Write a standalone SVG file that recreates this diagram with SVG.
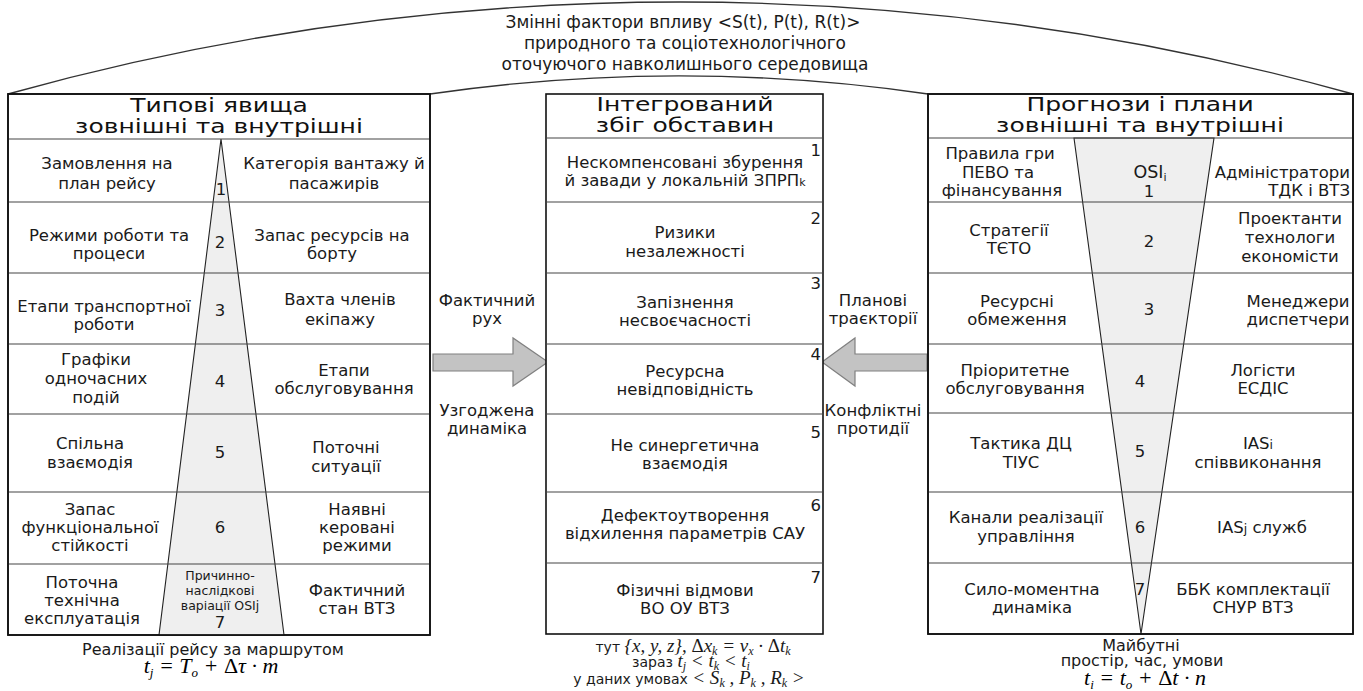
<svg xmlns="http://www.w3.org/2000/svg" width="1363" height="691" viewBox="0 0 1363 691">
<style>
.t{font-family:"DejaVu Sans",Verdana,sans-serif;font-size:16.5px;fill:#1a1a1a;text-anchor:middle}
.e{text-anchor:end}
.h{font-family:"DejaVu Sans",Verdana,sans-serif;font-size:20px;fill:#111;text-anchor:middle}
.s{font-size:12.5px}
.f{font-family:"Liberation Serif","Times New Roman",serif;font-style:italic;font-size:19px}
.u{font-style:normal}
.box{fill:#fff;stroke:#111;stroke-width:1.6}
.sep{stroke:#444;stroke-width:1.2}
.tri{fill:#efefef;stroke:#222;stroke-width:1.1}
.arc{fill:none;stroke:#333;stroke-width:1.3}
.arrow{fill:#c3c3c3;stroke:#808080;stroke-width:1.2}
</style>
<rect width="1363" height="691" fill="#fff"/>

<g id="connectors">
  <path class="arc" d="M8,94 A2504,2504 0 0 1 1353,94"/>
  <path class="arc" d="M430,94 A1731,1731 0 0 1 928,94"/>
  <path class="arrow" d="M433,354 L513,354 L513,338 L548,362 L513,386 L513,371 L433,371 Z"/>
  <path class="arrow" d="M927,354 L855,354 L855,338 L822,362 L855,386 L855,371 L927,371 Z"/>
</g>

<g id="environment">
  <text class="t" style="font-size:17px" x="683" y="28">Змінні фактори впливу &lt;S(t), P(t), R(t)&gt;</text>
  <text class="t" style="font-size:17px" x="685" y="49">природного та соціотехнологічного</text>
  <text class="t" style="font-size:17px" x="685" y="70">оточуючого навколишнього середовища</text>
</g>

<g id="typical">
  <rect class="box" x="8" y="94" width="422" height="541"/>
  <polygon class="tri" points="221,139 159,635 284,635"/>
  <g class="sep">
    <line x1="8" y1="139" x2="430" y2="139"/>
    <line x1="8" y1="202" x2="430" y2="202"/>
    <line x1="8" y1="273" x2="430" y2="273"/>
    <line x1="8" y1="344" x2="430" y2="344"/>
    <line x1="8" y1="414" x2="430" y2="414"/>
    <line x1="8" y1="492" x2="430" y2="492"/>
    <line x1="8" y1="564" x2="430" y2="564"/>
  </g>
  <rect x="8" y="94" width="422" height="541" fill="none" stroke="#111" stroke-width="1.6"/>
  <text class="h" transform="translate(219 112) scale(1.25 1)">Типові явища</text>
  <text class="h" transform="translate(219 133) scale(1.25 1)">зовнішні та внутрішні</text>
  <text class="t" x="107" y="169">Замовлення на</text>
  <text class="t" x="107" y="189">план рейсу</text>
  <text class="t" x="109" y="241">Режими роботи та</text>
  <text class="t" x="109" y="259">процеси</text>
  <text class="t" x="104" y="312">Етапи транспортної</text>
  <text class="t" x="104" y="330">роботи</text>
  <text class="t" x="96" y="365">Графіки</text>
  <text class="t" x="96" y="384">одночасних</text>
  <text class="t" x="96" y="403">подій</text>
  <text class="t" x="90" y="449">Спільна</text>
  <text class="t" x="90" y="468">взаємодія</text>
  <text class="t" x="90" y="515">Запас</text>
  <text class="t" x="90" y="533">функціональної</text>
  <text class="t" x="90" y="551">стійкості</text>
  <text class="t" x="82" y="588">Поточна</text>
  <text class="t" x="82" y="606">технічна</text>
  <text class="t" x="82" y="624">експлуатація</text>
  <text class="t" x="334" y="169">Категорія вантажу й</text>
  <text class="t" x="334" y="189">пасажирів</text>
  <text class="t" x="332" y="241">Запас ресурсів на</text>
  <text class="t" x="332" y="259">борту</text>
  <text class="t" x="340" y="305">Вахта членів</text>
  <text class="t" x="340" y="325">екіпажу</text>
  <text class="t" x="344" y="376">Етапи</text>
  <text class="t" x="344" y="394">обслуговування</text>
  <text class="t" x="346" y="453">Поточні</text>
  <text class="t" x="346" y="472">ситуації</text>
  <text class="t" x="357" y="515">Наявні</text>
  <text class="t" x="357" y="533">керовані</text>
  <text class="t" x="357" y="551">режими</text>
  <text class="t" x="357" y="596">Фактичний</text>
  <text class="t" x="357" y="614">стан ВТЗ</text>
  <text class="t" x="221" y="195">1</text>
  <text class="t" x="220" y="248">2</text>
  <text class="t" x="220" y="316">3</text>
  <text class="t" x="220" y="387">4</text>
  <text class="t" x="220" y="458">5</text>
  <text class="t" x="220" y="533">6</text>
  <text class="t s" x="220" y="580">Причинно-</text>
  <text class="t s" x="220" y="595">наслідкові</text>
  <text class="t s" x="220" y="610">варіації OSIj</text>
  <text class="t" x="220" y="628">7</text>
</g>

<g id="integrated">
  <rect class="box" x="546" y="94" width="277" height="540"/>
  <g class="sep">
    <line x1="546" y1="138" x2="823" y2="138"/>
    <line x1="546" y1="202" x2="823" y2="202"/>
    <line x1="546" y1="273" x2="823" y2="273"/>
    <line x1="546" y1="344" x2="823" y2="344"/>
    <line x1="546" y1="414" x2="823" y2="414"/>
    <line x1="546" y1="492" x2="823" y2="492"/>
    <line x1="546" y1="563" x2="823" y2="563"/>
  </g>
  <text class="h" transform="translate(685 111) scale(1.25 1)">Інтегрований</text>
  <text class="h" transform="translate(685 132) scale(1.25 1)">збіг обставин</text>
  <text class="t" x="685" y="168">Нескомпенсовані збурення</text>
  <text class="t" x="685" y="186">й завади у локальній ЗПРП<tspan style="font-size:11px">k</tspan></text>
  <text class="t" x="685" y="238">Ризики</text>
  <text class="t" x="685" y="257">незалежності</text>
  <text class="t" x="685" y="308">Запізнення</text>
  <text class="t" x="685" y="326">несвоєчасності</text>
  <text class="t" x="685" y="377">Ресурсна</text>
  <text class="t" x="685" y="395">невідповідність</text>
  <text class="t" x="685" y="451">Не синергетична</text>
  <text class="t" x="685" y="469">взаємодія</text>
  <text class="t" x="685" y="521">Дефектоутворення</text>
  <text class="t" x="685" y="539">відхилення параметрів САУ</text>
  <text class="t" x="685" y="596">Фізичні відмови</text>
  <text class="t" x="685" y="614">ВО ОУ ВТЗ</text>
  <text class="t e" x="821" y="156">1</text>
  <text class="t e" x="821" y="224">2</text>
  <text class="t e" x="821" y="289">3</text>
  <text class="t e" x="821" y="360">4</text>
  <text class="t e" x="821" y="438">5</text>
  <text class="t e" x="821" y="511">6</text>
  <text class="t e" x="821" y="583">7</text>
</g>

<g id="forecasts">
  <rect class="box" x="928" y="94" width="425" height="540"/>
  <polygon class="tri" points="1074,138 1214,138 1141,634"/>
  <g class="sep">
    <line x1="928" y1="138" x2="1353" y2="138"/>
    <line x1="928" y1="202" x2="1353" y2="202"/>
    <line x1="928" y1="273" x2="1353" y2="273"/>
    <line x1="928" y1="344" x2="1353" y2="344"/>
    <line x1="928" y1="413" x2="1353" y2="413"/>
    <line x1="928" y1="492" x2="1353" y2="492"/>
    <line x1="928" y1="563" x2="1353" y2="563"/>
  </g>
  <rect x="928" y="94" width="425" height="540" fill="none" stroke="#111" stroke-width="1.6"/>
  <text class="h" transform="translate(1140 111) scale(1.25 1)">Прогнози і плани</text>
  <text class="h" transform="translate(1140 132) scale(1.25 1)">зовнішні та внутрішні</text>
  <text class="t" x="1000" y="159">Правила гри</text>
  <text class="t" x="998" y="178">ПЕВО та</text>
  <text class="t" x="1002" y="196">фінансування</text>
  <text class="t" x="1150" y="178" style="font-size:17.5px">OSI<tspan style="font-size:11px" dy="3">i</tspan></text>
  <text class="t" x="1149" y="197">1</text>
  <text class="t e" x="1350" y="178">Адміністратори</text>
  <text class="t e" x="1350" y="196">ТДК і ВТЗ</text>
  <text class="t" x="1009" y="236">Стратегії</text>
  <text class="t" x="1009" y="254">ТЄТО</text>
  <text class="t" x="1149" y="247">2</text>
  <text class="t" x="1290" y="224">Проектанти</text>
  <text class="t" x="1290" y="243">технологи</text>
  <text class="t" x="1290" y="262">економісти</text>
  <text class="t" x="1017" y="307">Ресурсні</text>
  <text class="t" x="1017" y="325">обмеження</text>
  <text class="t" x="1149" y="315">3</text>
  <text class="t" x="1298" y="307">Менеджери</text>
  <text class="t" x="1298" y="325">диспетчери</text>
  <text class="t" x="1015" y="376">Пріоритетне</text>
  <text class="t" x="1015" y="394">обслуговування</text>
  <text class="t" x="1140" y="387">4</text>
  <text class="t" x="1263" y="376">Логісти</text>
  <text class="t" x="1263" y="394">ЕСДІС</text>
  <text class="t" x="1021" y="449">Тактика ДЦ</text>
  <text class="t" x="1021" y="468">ТІУС</text>
  <text class="t" x="1140" y="457">5</text>
  <text class="t" x="1258" y="449">IAS<tspan style="font-size:12.5px">i</tspan></text>
  <text class="t" x="1258" y="468">співвиконання</text>
  <text class="t" x="1026" y="523">Канали реалізації</text>
  <text class="t" x="1026" y="542">управління</text>
  <text class="t" x="1140" y="533">6</text>
  <text class="t" x="1262" y="533">IAS<tspan style="font-size:12.5px">j</tspan> служб</text>
  <text class="t" x="1032" y="595">Сило-моментна</text>
  <text class="t" x="1032" y="613">динаміка</text>
  <text class="t" x="1140" y="595">7</text>
  <text class="t" x="1253" y="595">ББК комплектації</text>
  <text class="t" x="1253" y="613">СНУР ВТЗ</text>
</g>

<g id="arrow-labels">
  <text class="t" x="487" y="306">Фактичний</text>
  <text class="t" x="487" y="324">рух</text>
  <text class="t" x="487" y="416">Узгоджена</text>
  <text class="t" x="487" y="434">динаміка</text>
  <text class="t" x="873" y="306">Планові</text>
  <text class="t" x="873" y="324">траєкторії</text>
  <text class="t" x="873" y="416">Конфліктні</text>
  <text class="t" x="873" y="434">протидії</text>
</g>

<g id="bottom-left">
  <text class="t" x="213" y="655" style="font-size:16px">Реалізації рейсу за маршрутом</text>
  <text class="f" x="211" y="673" text-anchor="middle" style="font-size:22px">t<tspan dy="4" style="font-size:13px">j</tspan><tspan dy="-4"> = </tspan>T<tspan dy="4" style="font-size:13px">o</tspan><tspan dy="-4"> + </tspan><tspan class="u">Δ</tspan>τ · m</text>
</g>

<g id="bottom-middle">
  <text class="t" x="693" y="652" style="font-size:14px">тут <tspan class="f">{x, y, z}, <tspan class="u">Δ</tspan>x<tspan dy="3" style="font-size:12px">k</tspan><tspan dy="-3"> = v</tspan><tspan dy="3" style="font-size:12px">x</tspan><tspan dy="-3"> · </tspan><tspan class="u">Δ</tspan>t<tspan dy="3" style="font-size:12px">k</tspan></tspan></text>
  <text class="t" x="691" y="667" style="font-size:14px">зараз <tspan class="f">t<tspan dy="3" style="font-size:12px">j</tspan><tspan dy="-3"> &lt; t</tspan><tspan dy="3" style="font-size:12px">k</tspan><tspan dy="-3"> &lt; t</tspan><tspan dy="3" style="font-size:12px">i</tspan></tspan></text>
  <text class="t" x="689" y="684" style="font-size:14px">у даних умовах <tspan class="f">&lt; S<tspan dy="3" style="font-size:12px">k</tspan><tspan dy="-3"> , P</tspan><tspan dy="3" style="font-size:12px">k</tspan><tspan dy="-3"> , R</tspan><tspan dy="3" style="font-size:12px">k</tspan><tspan dy="-3"> &gt;</tspan></tspan></text>
</g>

<g id="bottom-right">
  <text class="t" x="1141" y="651" style="font-size:16px">Майбутні</text>
  <text class="t" x="1142" y="666" style="font-size:16px">простір, час, умови</text>
  <text class="f" x="1145" y="685" text-anchor="middle" style="font-size:22px">t<tspan dy="4" style="font-size:13px">i</tspan><tspan dy="-4"> = t</tspan><tspan dy="4" style="font-size:13px">o</tspan><tspan dy="-4"> + </tspan><tspan class="u">Δ</tspan>t · n</text>
</g>
</svg>
